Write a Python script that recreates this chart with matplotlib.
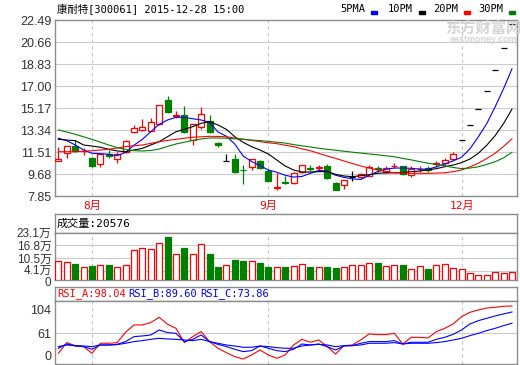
import matplotlib.pyplot as plt
import matplotlib.transforms as mtransforms
from matplotlib.patches import Rectangle
import numpy as np

plt.rcParams['font.family'] = ['Liberation Sans', 'Noto Sans CJK SC']
MONO = ['DejaVu Sans Mono', 'Noto Sans CJK SC']
RED = '#ff0000'
GREEN = '#008000'
BLUE = '#0000ff'

title = '康耐特[300061] 2015-12-28 15:00'

# daily candles (oldest first)
opens = [10.75, 11.43, 12.0, 11.58, 11.0, 10.51, 11.4, 10.93, 11.56, 13.22,
         13.37, 13.31, 13.84, 15.86, 14.55, 14.61, 12.53, 13.59, 14.09, 12.25,
         10.75, 10.93, 10.06, 10.31, 10.81, 9.95, 8.55, 9.0, 8.93, 9.85,
         10.2, 10.18, 10.37, 8.98, 8.78, 9.48, 9.48, 9.55, 10.2, 9.88,
         10.33, 10.35, 9.66, 10.1, 10.18, 10.52, 10.6, 10.93, 12.51, 13.76,
         15.14, 16.65, 18.32, 20.15, 22.17]
closes = [10.93, 12.03, 11.6, 11.62, 10.37, 11.34, 11.2, 11.34, 12.48, 13.51,
          13.59, 14.01, 15.45, 14.89, 14.62, 13.22, 13.84, 14.67, 13.22, 12.08,
          10.75, 9.85, 10.02, 10.93, 10.18, 9.15, 8.62, 8.96, 9.81, 10.45,
          10.16, 10.31, 9.35, 8.4, 9.2, 9.48, 9.7, 10.28, 10.15, 10.2,
          10.4, 9.7, 10.14, 10.16, 10.0, 10.58, 10.84, 11.37, 12.51, 13.76,
          15.14, 16.65, 18.32, 20.15, 22.17]
highs = [11.98, 12.03, 12.55, 11.9, 11.14, 11.36, 11.7, 11.56, 12.5, 13.78,
         14.28, 14.34, 15.45, 16.19, 14.95, 15.36, 13.9, 15.3, 14.61, 12.34,
         11.35, 11.4, 10.48, 10.95, 10.85, 10.1, 9.8, 9.55, 9.85, 10.45,
         10.43, 10.45, 10.5, 9.05, 9.22, 9.92, 9.77, 10.42, 10.4, 10.4,
         10.62, 10.4, 10.35, 10.35, 10.35, 10.8, 11.0, 11.5, 12.51, 13.76,
         15.14, 16.65, 18.32, 20.15, 22.17]
lows = [10.75, 11.01, 11.55, 11.25, 10.26, 10.26, 11.05, 10.65, 11.45, 13.09,
        13.3, 13.25, 13.8, 14.75, 14.35, 13.14, 12.12, 13.42, 13.15, 11.93,
        10.75, 9.76, 8.9, 10.04, 10.12, 9.13, 8.37, 8.87, 8.9, 9.8,
        9.95, 10.05, 9.33, 8.37, 8.48, 9.12, 9.4, 9.5, 9.85, 9.78,
        10.2, 9.65, 9.43, 9.85, 9.9, 10.3, 10.4, 10.9, 12.51, 13.76,
        15.14, 16.65, 18.32, 20.15, 22.17]

ma5 = [12.68, 12.48, 12.12, 11.70, 11.43, 11.40, 11.34, 11.23, 11.5, 12.1,
       12.59, 13.22, 13.84, 14.2, 14.42, 14.42, 14.3, 14.2, 14.0, 13.2,
       12.85, 12.2, 11.2, 10.75, 10.4, 10.04, 9.85, 9.6, 9.45, 9.5,
       9.76, 10.0, 9.95, 9.6, 9.43, 9.3, 9.25, 9.6, 9.9, 10.1,
       10.2, 10.2, 10.18, 10.12, 10.1, 10.3, 10.54, 10.8, 11.1, 11.8,
       12.8, 13.9, 15.3, 16.8, 18.45]
ma10 = [12.59, 12.53, 12.48, 12.12, 12.03, 11.93, 11.76, 11.62, 11.56, 11.7,
        11.84, 12.12, 12.39, 12.81, 13.22, 13.42, 13.64, 13.92, 14.06, 13.78,
        13.42, 12.81, 12.34, 11.98, 11.7, 11.37, 10.87, 10.37, 10.04, 9.87,
        9.87, 9.9, 9.9, 9.68, 9.54, 9.48, 9.57, 9.65, 9.76, 9.8,
        9.8, 9.82, 9.9, 9.95, 10.04, 10.15, 10.31, 10.45, 10.65, 10.95,
        11.43, 12.1, 12.9, 13.9, 15.1]
ma20 = [11.56, 11.56, 11.56, 11.6, 11.64, 11.7, 11.76, 11.87, 11.98, 12.05,
        12.12, 12.25, 12.39, 12.5, 12.59, 12.68, 12.76, 12.8, 12.84, 12.83,
        12.8, 12.7, 12.6, 12.5, 12.4, 12.3, 12.23, 12.1, 11.98, 11.8,
        11.64, 11.42, 11.2, 11.0, 10.79, 10.58, 10.37, 10.2, 10.04, 9.92,
        9.81, 9.78, 9.76, 9.76, 9.76, 9.78, 9.81, 9.9, 10.04, 10.3,
        10.6, 11.0, 11.43, 12.0, 12.62]
ma30 = [13.37, 13.2, 13.01, 12.8, 12.59, 12.35, 12.12, 11.9, 11.75, 11.65,
        11.62, 11.66, 11.78, 12.0, 12.2, 12.35, 12.5, 12.62, 12.7, 12.7,
        12.68, 12.63, 12.59, 12.53, 12.48, 12.42, 12.35, 12.28, 12.15, 12.05,
        11.95, 11.85, 11.76, 11.68, 11.6, 11.52, 11.45, 11.37, 11.3, 11.22,
        11.14, 11.0, 10.88, 10.74, 10.6, 10.5, 10.38, 10.25, 10.15, 10.2,
        10.31, 10.5, 10.73, 11.05, 11.51]

# volume in 万
vol = [9.1, 8.5, 7.6, 6.0, 6.7, 7.2, 7.2, 6.0, 7.2, 14.6,
       15.4, 14.9, 17.9, 21.1, 12.6, 15.6, 12.6, 17.4, 12.6, 6.2,
       7.2, 9.6, 9.1, 9.1, 8.1, 6.2, 6.2, 6.2, 6.8, 7.6,
       6.2, 6.2, 6.2, 5.7, 6.2, 7.2, 7.2, 8.1, 8.1, 6.8,
       7.2, 7.2, 5.0, 6.7, 5.2, 7.2, 7.6, 5.7, 5.0, 3.0,
       2.1, 2.1, 3.5, 3.0, 3.5]

rsi_a = [31.9, 46.8, 42.6, 41.2, 31.9, 45.9, 45.9, 46.8, 61.2, 71.5,
         71.5, 74.8, 82.2, 72.4, 66.8, 46.8, 55.2, 62.2, 48.2, 38.9,
         32.8, 27.2, 23.9, 29.5, 36.5, 29.5, 24.9, 29.5, 43.5, 51.4,
         47.3, 50.5, 41.2, 30.9, 42.6, 43.5, 50.5, 58.9, 58.0, 58.0,
         59.8, 44.9, 54.2, 54.2, 53.3, 62.2, 66.8, 72.9, 83.1, 89.2,
         92.5, 95.2, 96.2, 97.6, 98.04]
rsi_b = [38.9, 44.9, 42.1, 41.2, 37.5, 43.5, 43.5, 44.4, 48.2, 55.2,
         56.1, 57.5, 64.5, 60.8, 59.8, 48.2, 51.4, 57.5, 48.2, 44.4,
         41.2, 37.5, 34.2, 35.6, 42.1, 38.9, 35.6, 34.2, 37.5, 44.9,
         43.5, 44.9, 41.2, 36.5, 42.1, 42.6, 45.9, 48.2, 48.2, 48.2,
         49.6, 44.9, 47.3, 47.3, 47.3, 51.4, 54.2, 58.4, 64.5, 72.9,
         77.5, 80.8, 84.1, 86.9, 89.6]
rsi_c = [41.2, 43.5, 42.6, 42.1, 41.2, 43.5, 43.5, 44.0, 45.9, 48.2,
         49.6, 51.4, 52.8, 51.9, 51.4, 50.5, 49.6, 51.4, 48.2, 45.9,
         43.5, 42.1, 40.3, 40.3, 42.1, 41.2, 39.8, 38.9, 38.9, 42.1,
         43.5, 44.4, 43.5, 41.2, 42.6, 42.6, 43.5, 45.9, 45.9, 45.9,
         46.8, 44.9, 45.9, 45.9, 45.9, 46.8, 48.2, 50.5, 52.8, 56.6,
         59.8, 63.6, 66.8, 70.5, 73.86]

month_idx = [4, 25, 48]
month_labels = ['8月', '9月', '12月']
price_ticks = [7.85, 9.68, 11.51, 13.34, 15.17, 17.00, 18.83, 20.66, 22.49]
vol_ticks = [23.1, 16.8, 10.5, 4.1, 0]
vol_tick_labels = ['23.1万', '16.8万', '10.5万', '4.1万', '0']
rsi_ticks = [92.45, 59.9, 28.2]
rsi_tick_labels = ['104', '61', '0']
rsi_names = ['RSI_A:98.04', 'RSI_B:89.60', 'RSI_C:73.86']
ma_names = ['5PMA', '10PM', '20PM', '30PM']

W, H = 520, 365
fig = plt.figure(figsize=(5.2, 3.65), dpi=100)


def box(left, top, right, bottom):
    return [left / W, 1 - bottom / H, (right - left) / W, (bottom - top) / H]


def px(x, y):
    return x / W, 1 - y / H


ax = fig.add_axes(box(55, 20.3, 517, 196.3))
axvt = fig.add_axes(box(55, 214, 517, 232.7))
axv = fig.add_axes(box(55, 232.7, 517, 279.5))
axrt = fig.add_axes(box(55, 287.3, 517, 301))
axr = fig.add_axes(box(55, 301, 517, 363.5))

x = np.arange(len(closes))
o, c = np.array(opens), np.array(closes)
h, l = np.array(highs), np.array(lows)
up, down, flat = c > o, c < o, c == o

for a in (ax, axvt, axv, axrt, axr):
    for s in a.spines.values():
        s.set_color('#8c8c8c')
        s.set_linewidth(1)
    a.set_xlim(-0.4, 54.6)
    a.set_xticks([])
    a.tick_params(axis='y', length=0, pad=2.5, labelsize=9, labelcolor='#333333')
for a in (axvt, axrt):
    a.set_yticks([])

for a in (ax, axv, axr):
    for m in month_idx:
        a.axvline(m, color='#c4c4c4', lw=0.8, ls=(0, (3, 3)), zorder=0)

# price panel
ax.set_ylim(7.85, 22.49)
ax.set_yticks(price_ticks)
ax.set_yticklabels(['%.2f' % t for t in price_ticks])
for t in price_ticks[1:-1]:
    ax.axhline(t, color='#cccccc', lw=0.8, zorder=0)

cols = np.where(up, RED, np.where(down, GREEN, 'black'))
ax.vlines(x, l, h, colors=cols, lw=0.9, zorder=2)
lo = np.minimum(o, c)
bh = np.abs(c - o)
ax.bar(x[up], bh[up], bottom=lo[up], width=0.7, facecolor='white',
       edgecolor=RED, lw=0.9, zorder=3)
ax.bar(x[down], bh[down], bottom=lo[down], width=0.7, facecolor=GREEN,
       edgecolor=GREEN, lw=0.9, zorder=3)
ax.hlines(c[flat], x[flat] - 0.36, x[flat] + 0.36, colors='black', lw=0.9, zorder=3)

ax.plot(x, ma5, color=BLUE, lw=0.8, zorder=4)
ax.plot(x, ma10, color='black', lw=0.8, zorder=4)
ax.plot(x, ma20, color=RED, lw=0.8, zorder=4)
ax.plot(x, ma30, color=GREEN, lw=0.8, zorder=4)

fig.text(*px(483, 28), '东方财富网', fontsize=11, color='#d4d4d4',
         fontweight='bold', ha='center', va='center', family=['Noto Sans CJK SC'])
fig.text(*px(483, 39.5), 'eastmoney.com', fontsize=6.5, color='#d4d4d4',
         fontweight='bold', ha='center', va='center')

for m, lab in zip(month_idx, month_labels):
    ax.text(m, -0.055, lab, transform=ax.get_xaxis_transform(), ha='center',
            va='center', color=RED, fontsize=8, family=MONO)

fig.text(*px(57, 9.5), title, fontsize=7.5, family=MONO, va='center')
leg_x = [340, 388, 433, 478]
for name, lx, col in zip(ma_names, leg_x, [BLUE, 'black', RED, GREEN]):
    fig.text(*px(lx, 9.5), name, fontsize=7.5, family=MONO, va='center')
    fig.patches.append(Rectangle(px(lx + len(name) * 6.3 + 6, 14), 6 / W, 2.5 / H,
                                 transform=fig.transFigure, color=col))

# volume panel
axv.set_ylim(0, 23.1)
axv.set_yticks(vol_ticks)
axv.set_yticklabels(vol_tick_labels)
axv.tick_params(axis='y', labelsize=8.5)
for t in vol_ticks[1:-1]:
    axv.axhline(t, color='#cccccc', lw=0.8, zorder=0)
axv.bar(x, vol, width=0.72, facecolor=np.where(down, GREEN, 'white'),
        edgecolor=np.where(down, GREEN, RED), lw=0.9, zorder=3)
fig.text(*px(57, 223.5), '成交量:20576', fontsize=8, family=MONO, va='center')

# nudge the two lowest volume labels apart, as in the reference
vlabels = axv.get_yticklabels()
for lbl, dy in ((vlabels[3], 2.0), (vlabels[4], -2.0)):
    lbl.set_transform(lbl.get_transform() +
                      mtransforms.ScaledTranslation(0, dy / 100, fig.dpi_scale_trans))

# rsi panel
axr.set_ylim(17.6, 105.0)
axr.set_yticks(rsi_ticks)
axr.set_yticklabels(rsi_tick_labels)
axr.axhline(rsi_ticks[1], color='#cccccc', lw=0.8, zorder=0)
axr.plot(x, rsi_a, color=RED, lw=0.8)
axr.plot(x, rsi_b, color=BLUE, lw=0.8)
axr.plot(x, rsi_c, color=BLUE, lw=0.8)
for name, lx, col in zip(rsi_names, [57, 128, 200], [RED, BLUE, BLUE]):
    fig.text(*px(lx, 294), name, fontsize=7.5, family=MONO, color=col, va='center')

fig.savefig('out.png', dpi=100)
